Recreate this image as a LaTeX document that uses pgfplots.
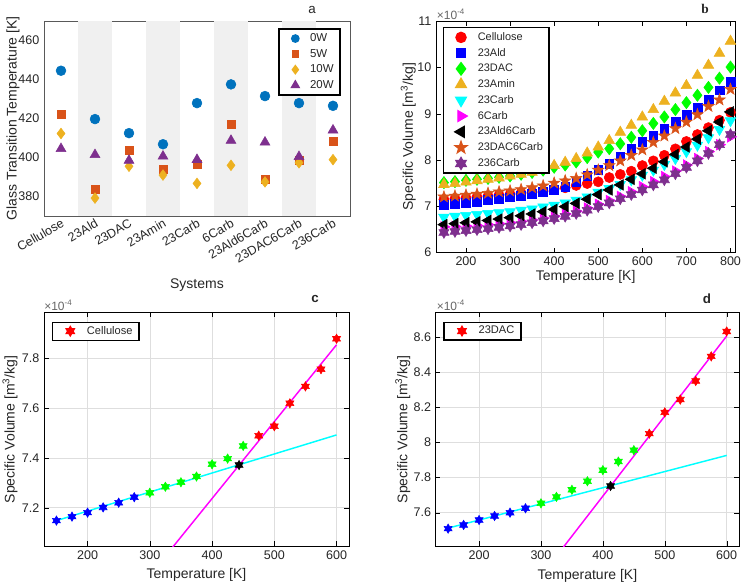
\documentclass[border=0pt]{standalone}
\usepackage{fontspec}
\setmainfont{Liberation Sans}
\newfontfamily\serifbold{Liberation Serif}
\usepackage{pgfplots}
\usepackage{pgfplotstable}
\pgfplotsset{compat=1.18}
\usetikzlibrary{plotmarks}

\definecolor{mblue}{RGB}{0,114,189}
\definecolor{morange}{RGB}{217,83,25}
\definecolor{myellow}{RGB}{237,177,32}
\definecolor{mpurple}{RGB}{126,47,142}
\definecolor{mcyan}{RGB}{0,255,255}
\definecolor{mmag}{RGB}{255,0,255}
\definecolor{mgreen}{RGB}{0,255,0}
\definecolor{mred}{RGB}{255,0,0}
\definecolor{mbl}{RGB}{0,0,255}

% filled five-point star
\pgfdeclareplotmark{fivestar}{%
  \pgfpathmoveto{\pgfpointpolar{90}{\pgfplotmarksize}}%
  \pgfpathlineto{\pgfpointpolar{126}{0.4*\pgfplotmarksize}}%
  \pgfpathlineto{\pgfpointpolar{162}{\pgfplotmarksize}}%
  \pgfpathlineto{\pgfpointpolar{198}{0.4*\pgfplotmarksize}}%
  \pgfpathlineto{\pgfpointpolar{234}{\pgfplotmarksize}}%
  \pgfpathlineto{\pgfpointpolar{270}{0.4*\pgfplotmarksize}}%
  \pgfpathlineto{\pgfpointpolar{306}{\pgfplotmarksize}}%
  \pgfpathlineto{\pgfpointpolar{342}{0.4*\pgfplotmarksize}}%
  \pgfpathlineto{\pgfpointpolar{18}{\pgfplotmarksize}}%
  \pgfpathlineto{\pgfpointpolar{54}{0.4*\pgfplotmarksize}}%
  \pgfpathclose\pgfusepathqfillstroke}
% filled hexagram
\pgfdeclareplotmark{hexstar}{%
  \pgfpathmoveto{\pgfpointpolar{90}{\pgfplotmarksize}}%
  \pgfpathlineto{\pgfpointpolar{120}{0.577*\pgfplotmarksize}}%
  \pgfpathlineto{\pgfpointpolar{150}{\pgfplotmarksize}}%
  \pgfpathlineto{\pgfpointpolar{180}{0.577*\pgfplotmarksize}}%
  \pgfpathlineto{\pgfpointpolar{210}{\pgfplotmarksize}}%
  \pgfpathlineto{\pgfpointpolar{240}{0.577*\pgfplotmarksize}}%
  \pgfpathlineto{\pgfpointpolar{270}{\pgfplotmarksize}}%
  \pgfpathlineto{\pgfpointpolar{300}{0.577*\pgfplotmarksize}}%
  \pgfpathlineto{\pgfpointpolar{330}{\pgfplotmarksize}}%
  \pgfpathlineto{\pgfpointpolar{0}{0.577*\pgfplotmarksize}}%
  \pgfpathlineto{\pgfpointpolar{30}{\pgfplotmarksize}}%
  \pgfpathlineto{\pgfpointpolar{60}{0.577*\pgfplotmarksize}}%
  \pgfpathclose\pgfusepathqfillstroke}

\pgfplotsset{
  every axis/.append style={
    scale only axis,
    tick label style={font=\fontsize{9.4}{11}\selectfont, text=black!85},
    label style={font=\fontsize{10.5}{12}\selectfont, text=black!85},
    /pgf/number format/assume math mode=true,
    axis line style={black!85},
    tick style={black!85},
    tick align=inside,
    major tick length=3.5pt,
  },
  wideleg/.style={legend image code/.code={%
    \path[draw=none,fill=none] (0pt,-1pt) rectangle (2*#1,1pt);
    \path[draw=none] plot[only marks] coordinates {(#1,0pt)};}},
}

% specific volume (x 1e-4 m^3/kg) vs temperature, panel b
\pgfplotstableread{
T   Cel    Ald   DAC    Amin   Carb  Cs   AldC  DACC  Ct
150 7.145  7.03  7.509  7.47   6.76  6.55 6.60  7.20  6.43
175 7.164  7.05  7.530  7.49   6.78  6.56 6.62  7.22  6.45
200 7.18   7.07  7.558  7.52   6.80  6.57 6.64  7.24  6.47
225 7.201  7.10  7.581  7.55   6.82  6.58 6.66  7.26  6.49
250 7.22   7.13  7.60   7.58   6.84  6.60 6.69  7.28  6.51
275 7.242  7.16  7.625  7.61   6.86  6.62 6.72  7.31  6.54
300 7.26   7.19  7.653  7.65   6.88  6.64 6.75  7.33  6.57
325 7.284  7.23  7.69   7.69   6.91  6.67 6.79  7.36  6.60
350 7.302  7.27  7.73   7.73   6.94  6.70 6.83  7.40  6.64
375 7.325  7.31  7.779  7.80   6.98  6.74 6.88  7.44  6.68
400 7.374  7.36  7.842  7.88   7.02  6.78 6.93  7.50  6.73
425 7.397  7.42  7.891  7.95   7.07  6.83 6.99  7.55  6.78
450 7.448  7.52  7.956  8.03   7.13  6.89 7.06  7.60  6.84
475 7.489  7.65  8.05   8.15   7.20  6.96 7.15  7.68  6.91
500 7.527  7.78  8.171  8.28   7.30  7.04 7.25  7.78  6.99
525 7.619  7.92  8.244  8.42   7.38  7.12 7.35  7.88  7.07
550 7.687  8.08  8.35   8.60   7.47  7.21 7.46  7.98  7.16
575 7.756  8.24  8.49   8.75   7.57  7.31 7.58  8.10  7.25
600 7.878  8.39  8.632  8.93   7.67  7.42 7.70  8.22  7.35
625 7.98   8.53  8.79   9.09   7.78  7.53 7.82  8.38  7.46
650 8.10   8.68  8.93   9.27   7.90  7.64 7.96  8.52  7.57
675 8.24   8.82  9.09   9.45   8.03  7.76 8.12  8.68  7.70
700 8.40   8.97  9.24   9.61   8.18  7.89 8.28  8.82  7.84
725 8.55   9.13  9.40   9.83   8.32  8.03 8.45  8.98  7.98
750 8.70   9.30  9.57   10.05  8.48  8.18 8.63  9.16  8.14
775 8.86   9.51  9.77   10.31  8.66  8.33 8.82  9.30  8.33
800 9.03   9.69  10.01  10.57  8.85  8.50 9.04  9.53  8.55
}\svdata

\begin{document}
\begin{tikzpicture}
\path[use as bounding box] (0pt,0pt) rectangle (555.75pt,440.25pt);

% ---------------- panel a ----------------
\begin{axis}[
  at={(33pt,278.25pt)}, anchor=south west,
  width=229.5pt, height=146.25pt,
  xmin=0.5, xmax=9.5, ymin=370, ymax=470,
  xtick={1,...,9},
  xticklabels={Cellulose,23Ald,23DAC,23Amin,23Carb,6Carb,23Ald6Carb,23DAC6Carb,236Carb},
  xticklabel style={rotate=30, anchor=north east, inner sep=1pt},
  ytick={380,400,420,440,460},
  major tick length=0pt,
  axis line style={black!65},
  xlabel={Systems}, ylabel={Glass Transition Temperature [K]},
  xlabel style={at={(rel axis cs:0.5,0)}, anchor=center, yshift=-51.75pt},
  ylabel style={at={([xshift=-23.25pt]rel axis cs:0,0.5)}, anchor=center},
  legend style={at={(0.971,0.964)}, anchor=north east, draw=black, line width=1.3pt,
    font=\fontsize{8.6}{10}\selectfont, text=black!85, row sep=0.2pt,
    inner xsep=3pt, inner ysep=1.5pt},
  legend image code/.code={%
    \path[draw=none,fill=none] (0pt,-1pt) rectangle (18pt,1pt);
    \path[draw=none] plot[only marks, mark size=0.7*\pgfplotmarksize] coordinates {(9pt,0pt)};},
  legend cell align=left,
]
\addplot[fill=black!6, draw=none, forget plot] coordinates {(1.5,470) (2.5,470)} \closedcycle;
\addplot[fill=black!6, draw=none, forget plot] coordinates {(3.5,470) (4.5,470)} \closedcycle;
\addplot[fill=black!6, draw=none, forget plot] coordinates {(5.5,470) (6.5,470)} \closedcycle;
\addplot[fill=black!6, draw=none, forget plot] coordinates {(7.5,470) (8.5,470)} \closedcycle;
\addplot[only marks, mark=*, mark size=3.7pt, color=mblue] coordinates {
  (1,444.5) (2,419.7) (3,412.5) (4,406.8) (5,427.9) (6,437.5) (7,431.5) (8,427.9) (9,426.5)};
\addplot[only marks, mark=square*, mark size=3pt, color=morange] coordinates {
  (1,422) (2,383.5) (3,403.5) (4,393.8) (5,396.4) (6,417.2) (7,388.6) (8,398.5) (9,408.2)};
\addplot[only marks, mark=diamond*, mark size=4pt, color=myellow] coordinates {
  (1,412.3) (2,379.2) (3,395.5) (4,391) (5,386.7) (6,396) (7,387.5) (8,397.3) (9,398.9)};
\addplot[only marks, mark=triangle*, mark size=4.3pt, color=mpurple] coordinates {
  (1,404.5) (2,401.4) (3,398.5) (4,400.6) (5,398.9) (6,408.7) (7,407.8) (8,400.4) (9,414)};
\legend{0W,5W,10W,20W}
\end{axis}

% ---------------- panel b ----------------
\begin{axis}[
  at={(327pt,251pt)}, anchor=south west,
  width=224.5pt, height=173.25pt,
  xmin=132, xmax=811, ymin=6, ymax=11,
  xtick={200,300,...,800}, ytick={6,7,...,11},
  axis line style={black}, tick style={black},
  xlabel={Temperature [K]}, ylabel={Specific Volume [m\textsuperscript{3}/kg]},
  xlabel style={at={(rel axis cs:0.5,0)}, anchor=center, yshift=-18.75pt},
  ylabel style={at={([xshift=-20.8pt]rel axis cs:0,0.5)}, anchor=center},
  legend style={at={(0.023,0.975)}, anchor=north west, draw=black, line width=1pt,
    font=\fontsize{8.2}{9.5}\selectfont, text=black!85, row sep=0.4pt,
    inner xsep=2.5pt, inner ysep=1.5pt},
  wideleg=10.6pt,
  legend cell align=left,
]
\addplot[only marks, mark=*, mark size=3.8pt, color=mred] table[x=T,y=Cel] {\svdata};
\addplot[only marks, mark=square*, mark size=3.3pt, color=mbl] table[x=T,y=Ald] {\svdata};
\addplot[only marks, mark=diamond*, mark size=4.6pt, color=mgreen] table[x=T,y=DAC] {\svdata};
\addplot[only marks, mark=triangle*, mark size=4.6pt, color=myellow] table[x=T,y=Amin] {\svdata};
\addplot[only marks, mark=triangle*, mark size=4.6pt, color=mcyan, mark options={rotate=180}] table[x=T,y=Carb] {\svdata};
\addplot[only marks, mark=triangle*, mark size=4.6pt, color=mmag, mark options={rotate=-90}] table[x=T,y=Cs] {\svdata};
\addplot[only marks, mark=triangle*, mark size=4.6pt, color=black, mark options={rotate=90}] table[x=T,y=AldC] {\svdata};
\addplot[only marks, mark=fivestar, mark size=4.6pt, color=morange] table[x=T,y=DACC] {\svdata};
\addplot[only marks, mark=hexstar, mark size=4.4pt, color=mpurple] table[x=T,y=Ct] {\svdata};
\legend{Cellulose,23Ald,23DAC,23Amin,23Carb,6Carb,23Ald6Carb,23DAC6Carb,236Carb}
\end{axis}

% ---------------- panel c ----------------
\begin{axis}[
  at={(33pt,30.75pt)}, anchor=south west,
  width=228.75pt, height=175pt,
  xmin=130, xmax=620, ymin=7.046, ymax=7.983,
  xtick={200,300,...,600}, ytick={7.2,7.4,7.6,7.8},
  yticklabel style={/pgf/number format/fixed, /pgf/number format/precision=1},
  grid=major, grid style={black!13},
  axis line style={black}, tick style={black},
  xlabel={Temperature [K]}, ylabel={Specific Volume [m\textsuperscript{3}/kg]},
  xlabel style={at={(rel axis cs:0.5,0)}, anchor=center, yshift=-21.75pt},
  ylabel style={at={([xshift=-25.5pt]rel axis cs:0,0.5)}, anchor=center},
  legend style={at={(0.025,0.962)}, anchor=north west, draw=black, line width=1pt,
    font=\fontsize{8.3}{10}\selectfont, text=black!85, inner xsep=3pt, inner ysep=1pt},
  wideleg=10.5pt,
]
\addplot[only marks, mark=hexstar, mark size=3.5pt, color=mred] coordinates {
  (475,7.489) (500,7.527) (525,7.619) (550,7.687) (575,7.756) (600,7.878)};
\addplot[only marks, mark=hexstar, mark size=3.5pt, color=mbl, forget plot] coordinates {
  (150,7.148) (175,7.164) (200,7.18) (225,7.201) (250,7.22) (275,7.242)};
\addplot[only marks, mark=hexstar, mark size=3.5pt, color=mgreen, forget plot] coordinates {
  (300,7.26) (325,7.284) (350,7.302) (375,7.325) (400,7.374) (425,7.397) (450,7.448)};
\addplot[mcyan, line width=1.1pt, forget plot] coordinates {(150,7.148) (600,7.492)};
\addplot[mmag, line width=1.1pt, forget plot] coordinates {(335,7.036) (600,7.854)};
\addplot[only marks, mark=hexstar, mark size=3.5pt, color=black, forget plot] coordinates {(443.4,7.371)};
\legend{Cellulose}
\end{axis}

% ---------------- panel d ----------------
\begin{axis}[
  at={(326.8pt,30.75pt)}, anchor=south west,
  width=227.5pt, height=175pt,
  xmin=130, xmax=620, ymin=7.41, ymax=8.739,
  xtick={200,300,...,600}, ytick={7.6,7.8,8,8.2,8.4,8.6},
  grid=major, grid style={black!13},
  axis line style={black}, tick style={black},
  xlabel={Temperature [K]}, ylabel={Specific Volume [m\textsuperscript{3}/kg]},
  xlabel style={at={(rel axis cs:0.5,0)}, anchor=center, yshift=-22.5pt},
  ylabel style={at={([xshift=-24.75pt]rel axis cs:0,0.5)}, anchor=center},
  legend style={at={(0.025,0.962)}, anchor=north west, draw=black, line width=1pt,
    font=\fontsize{8.3}{10}\selectfont, text=black!85, inner xsep=3pt, inner ysep=1pt},
  wideleg=10.5pt,
]
\addplot[only marks, mark=hexstar, mark size=3.5pt, color=mred] coordinates {
  (475,8.05) (500,8.171) (525,8.244) (550,8.35) (575,8.49) (600,8.632)};
\addplot[only marks, mark=hexstar, mark size=3.5pt, color=mbl, forget plot] coordinates {
  (150,7.509) (175,7.530) (200,7.558) (225,7.581) (250,7.60) (275,7.625)};
\addplot[only marks, mark=hexstar, mark size=3.5pt, color=mgreen, forget plot] coordinates {
  (300,7.653) (325,7.69) (350,7.73) (375,7.779) (400,7.842) (425,7.891) (450,7.956)};
\addplot[mcyan, line width=1.1pt, forget plot] coordinates {(150,7.512) (600,7.926)};
\addplot[mmag, line width=1.1pt, forget plot] coordinates {(335,7.398) (600,8.606)};
\addplot[only marks, mark=hexstar, mark size=3.5pt, color=black, forget plot] coordinates {(412.4,7.752)};
\legend{23DAC}
\end{axis}

% panel letters and exponent labels
\node[font=\fontsize{10}{11}\selectfont, text=black!85] at (234pt,432.75pt) {a};
\node[font=\serifbold\bfseries\fontsize{10}{11}\selectfont, text=black!85] at (528.75pt,433.5pt) {b};
\node[font=\bfseries\fontsize{10}{11}\selectfont, text=black!85] at (236.25pt,216pt) {c};
\node[font=\bfseries\fontsize{10}{11}\selectfont, text=black!85] at (530.25pt,216pt) {d};
\node[anchor=west, inner sep=0pt, font=\fontsize{9}{10}\selectfont, text=black!60] at (327.5pt,429.75pt) {×10\textsuperscript{-4}};
\node[anchor=west, inner sep=0pt, font=\fontsize{9}{10}\selectfont, text=black!60] at (33pt,211.5pt) {×10\textsuperscript{-4}};
\node[anchor=west, inner sep=0pt, font=\fontsize{9}{10}\selectfont, text=black!60] at (327.4pt,211pt) {×10\textsuperscript{-4}};
\end{tikzpicture}
\end{document}
